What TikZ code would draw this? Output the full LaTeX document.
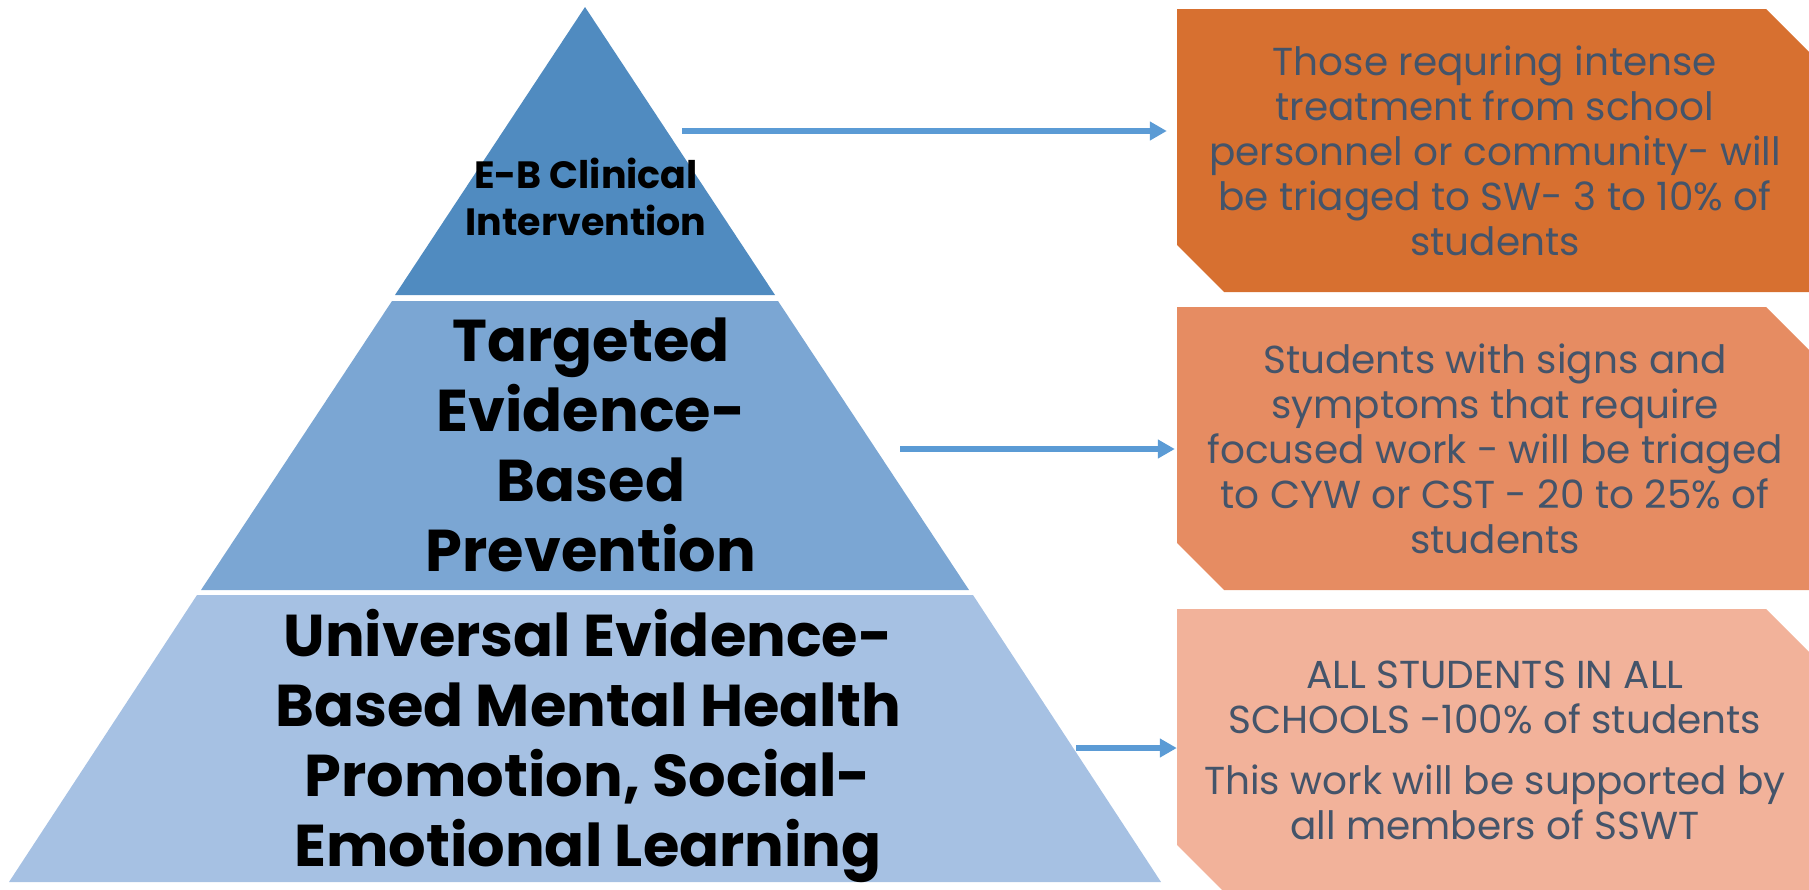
\documentclass[tikz,border=0pt]{standalone}
\usepackage{fontspec}
\setmainfont{Poppins}
\usepackage{tikz}
\usetikzlibrary{arrows.meta}

\definecolor{tierA}{RGB}{80,139,192}
\definecolor{tierB}{RGB}{123,166,211}
\definecolor{tierC}{RGB}{166,193,227}
\definecolor{boxA}{RGB}{215,112,48}
\definecolor{boxB}{RGB}{230,140,98}
\definecolor{boxC}{RGB}{242,178,154}
\definecolor{boxtext}{RGB}{68,84,106}
\definecolor{arrowblue}{RGB}{91,155,213}

\begin{document}
\begin{tikzpicture}[x=1pt,y=-1pt,
    tiertext/.style={align=center,text=black,font=\bfseries\fontsize{59}{70}\selectfont},
    infobox/.style={rectangle,minimum width=636pt,minimum height=283pt,inner sep=0pt,
        align=center,text=boxtext,font=\fontsize{39}{45}\selectfont,
        path picture={\fill[#1] (path picture bounding box.north west)
            -- ([xshift=-47pt]path picture bounding box.north east)
            -- ([yshift=-47pt]path picture bounding box.north east)
            -- (path picture bounding box.south east)
            -- ([xshift=47pt]path picture bounding box.south west)
            -- ([yshift=47pt]path picture bounding box.south west) -- cycle;}},
    pointer/.style={draw=arrowblue,line width=6pt,
        -{Triangle[length=17pt,width=18pt]}}]
    \useasboundingbox (0,0) rectangle (1809,889);

    % pyramid tiers
    \fill[tierA] (585,7) -- (775,295) -- (395,295) -- cycle;          % top
    \fill[tierB] (392,301) -- (778,301) -- (969,590) -- (201,590) -- cycle; % middle
    \fill[tierC] (197,595) -- (973,595) -- (1161,882) -- (9,882) -- cycle;  % bottom

    % tier labels
    \node[tiertext,font=\bfseries\fontsize{38}{47}\selectfont] (clinical) at (586,197)
        {E-B Clinical\\Intervention};
    \node[tiertext] (targeted) at (591,445)
        {Targeted\\Evidence-\\Based\\Prevention};
    \node[tiertext] (universal) at (588,746)
        {Universal Evidence-\\Based Mental Health\\Promotion, Social-\\Emotional Learning};

    % boxes on the right
    \node[infobox=boxA] (boxSW) at (1495,150.5)
        {Those requring intense\\treatment from school\\personnel or community- will\\be triaged to SW- 3 to 10\% of\\students};
    \node[infobox=boxB] (boxCYW) at (1495,448.5)
        {Students with signs and\\symptoms that require\\focused work - will be triaged\\to CYW or CST - 20 to 25\% of\\students};
    \node[infobox=boxC] (boxAll) at (1495,750.5)
        {ALL STUDENTS IN ALL\\SCHOOLS -100\% of students\\[16pt]This work will be supported by\\all members of SSWT};

    % arrows
    \coordinate (fromClinical) at (682,131);
    \coordinate (fromTargeted) at (900,449);
    \coordinate (fromUniversal) at (1076,748);
    \draw[pointer,shorten >=10pt] (fromClinical) -- (boxSW.west |- fromClinical);
    \draw[pointer,shorten >=2pt] (fromTargeted) -- (boxCYW.west |- fromTargeted);
    \draw[pointer] (fromUniversal) -- (boxAll.west |- fromUniversal);
\end{tikzpicture}
\end{document}
